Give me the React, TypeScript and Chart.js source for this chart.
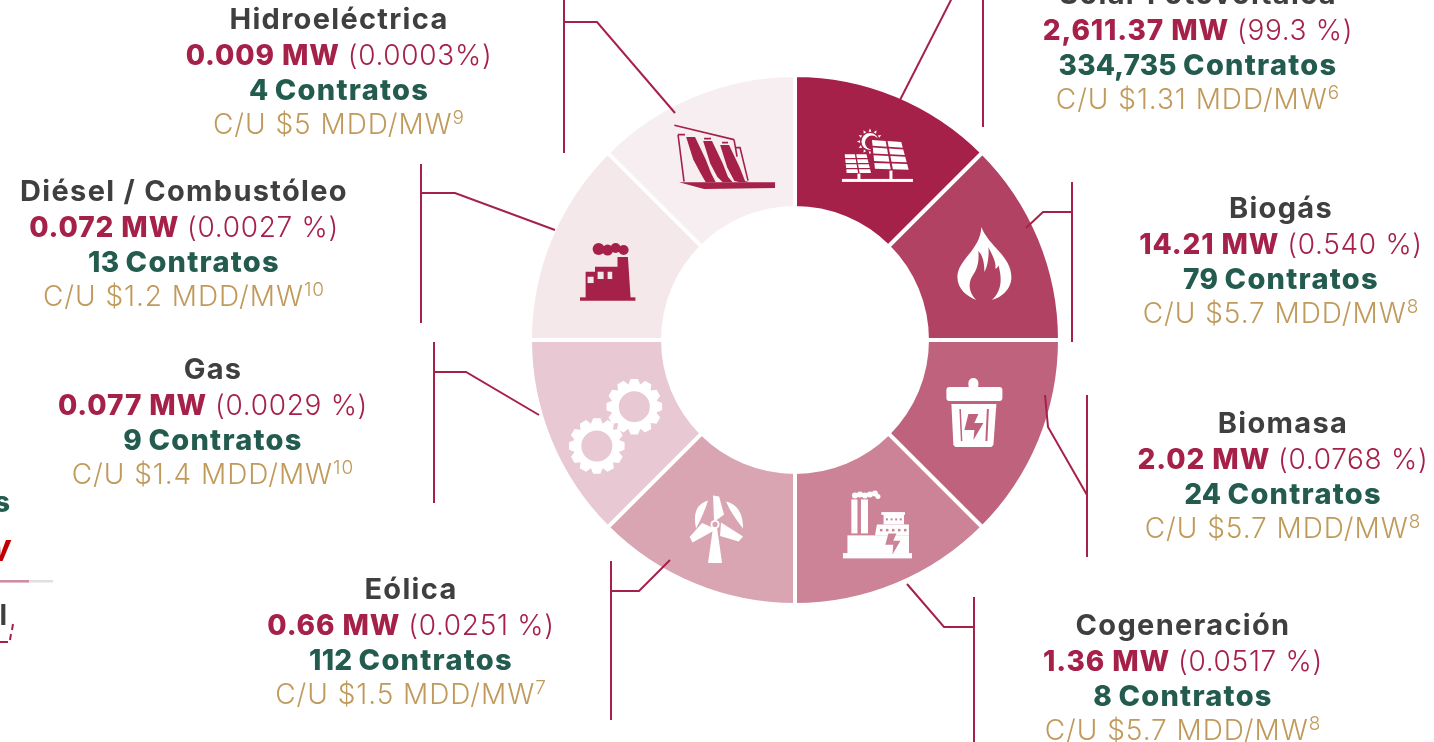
import React, { useEffect, useRef } from "react";
import { Chart, registerables } from "chart.js";

Chart.register(...registerables);

const categories = ["Solar Fotovoltaica", "Biogás", "Biomasa", "Cogeneración", "Eólica", "Gas", "Diésel / Combustóleo", "Hidroeléctrica"];
const capacityLabels = ["2,611.37 MW", "14.21 MW", "2.02 MW", "1.36 MW", "0.66 MW", "0.077 MW", "0.072 MW", "0.009 MW"];
const shareLabels = ["(99.3 %)", "(0.540 %)", "(0.0768 %)", "(0.0517 %)", "(0.0251 %)", "(0.0029 %)", "(0.0027 %)", "(0.0003%)"];
const contractCounts = ["334,735", "79", "24", "8", "112", "9", "13", "4"];
const contractWord = "Contratos";
const costLabels = ["C/U $1.31 MDD/MW", "C/U $5.7 MDD/MW", "C/U $5.7 MDD/MW", "C/U $5.7 MDD/MW", "C/U $1.5 MDD/MW", "C/U $1.4 MDD/MW", "C/U $1.2 MDD/MW", "C/U $5 MDD/MW"];
const footnotes = ["6", "8", "8", "8", "7", "10", "10", "9"];
const sliceWeights = [1, 1, 1, 1, 1, 1, 1, 1];
const sliceColors = ["#A6214A", "#B14263", "#BE627D", "#CC8398", "#D9A5B3", "#E8C8D2", "#F4E8EB", "#F7EEF1"];

const labelCenterX = [1198, 1281, 1283, 1183, 411, 213, 184, 339];
const labelFirstLineY = [-6, 208, 423, 625, 589, 369, 191, 19];
const lineOffsets = [0, 35.5, 70.5, 104.5];

const leaderLines: number[][][] = [
  [[900, 100], [953, -4]],
  [[1026, 228], [1043, 212], [1072, 212]],
  [[1045, 395], [1048, 427], [1087, 495]],
  [[907, 584], [944, 627], [974, 627]],
  [[670, 560], [639, 591], [611, 591]],
  [[539, 415], [466, 372], [434, 372]],
  [[555, 230], [455, 193], [421, 193]],
  [[675, 113], [597, 22], [564, 22]],
];
const leaderBars: number[][] = [
  [983, 0, 127], [1072, 182, 342], [1087, 395, 557], [974, 597, 742],
  [611, 561, 720], [434, 342, 503], [421, 164, 323], [564, 0, 153],
];

const RED = "#A6214A";
const FONT = "Inter, 'Noto Sans', sans-serif";
type C = CanvasRenderingContext2D;
type P = number[];

function poly(c: C, pts: P[], color: string) {
  c.fillStyle = color;
  c.beginPath();
  pts.forEach((p, i) => (i ? c.lineTo(p[0], p[1]) : c.moveTo(p[0], p[1])));
  c.closePath();
  c.fill();
}
function rect(c: C, x0: number, x1: number, y0: number, y1: number, color: string) {
  c.fillStyle = color;
  c.fillRect(x0, y0, x1 - x0, y1 - y0);
}
function circle(c: C, x: number, y: number, r: number, color: string) {
  c.fillStyle = color;
  c.beginPath();
  c.arc(x, y, r, 0, Math.PI * 2);
  c.fill();
}
function panel(c: C, q: P[], cols: number, rows: number) {
  const at = (u: number, v: number) => [
    (1 - v) * ((1 - u) * q[0][0] + u * q[1][0]) + v * ((1 - u) * q[3][0] + u * q[2][0]),
    (1 - v) * ((1 - u) * q[0][1] + u * q[1][1]) + v * ((1 - u) * q[3][1] + u * q[2][1]),
  ];
  for (let i = 0; i < cols; i++)
    for (let j = 0; j < rows; j++) {
      const g = 0.06;
      const u0 = i / cols + g / cols, u1 = (i + 1) / cols - g / cols;
      const v0 = j / rows + 0.12 / rows, v1 = (j + 1) / rows - 0.12 / rows;
      poly(c, [at(u0, v0), at(u1, v0), at(u1, v1), at(u0, v1)], "#fff");
    }
}
function bolt(c: C, dx: number, dy: number, s: number, color: string) {
  const pts = [[-5, -16], [5, -16], [1, -7], [10, -7], [0, 10], [1, -2], [-9, -2]];
  poly(c, pts.map((p) => [dx + p[0] * s, dy + p[1] * s]), color);
}

function iconSolar(c: C) {
  for (let i = 0; i < 12; i++) {
    const a = (i * Math.PI) / 6;
    poly(c, [
      [-1 + 13 * Math.cos(a), -15 + 13 * Math.sin(a)],
      [-1 + 10 * Math.cos(a + 0.14), -15 + 10 * Math.sin(a + 0.14)],
      [-1 + 10 * Math.cos(a - 0.14), -15 + 10 * Math.sin(a - 0.14)],
    ], "#fff");
  }
  circle(c, -1, -15, 8.5, "#fff");
  circle(c, 1, -14, 7, RED);
  poly(c, [[-1, -19], [32, -17], [41, 16], [1, 15]], RED);
  panel(c, [[-27, -3], [-4, -3], [1, 17], [-25, 17]], 2, 4);
  panel(c, [[0, -17.7], [31, -15.3], [39, 14], [3, 13]], 2, 4);
  rect(c, -29, 42, 22.3, 25.3, "#fff");
  rect(c, -13.5, -10.5, 17, 23, "#fff");
  rect(c, 18.5, 21.5, 14, 23, "#fff");
}
function iconFlame(c: C, bg: string) {
  c.fillStyle = "#fff";
  c.beginPath();
  c.moveTo(3, -37);
  c.bezierCurveTo(10, -18, 33, -8, 33, 13);
  c.bezierCurveTo(33, 26, 22, 34, 13, 36);
  c.lineTo(-1.5, 36);
  c.bezierCurveTo(-11, 33, -21, 25, -21, 13);
  c.bezierCurveTo(-21, -4, 2, -14, 3, -37);
  c.closePath();
  c.fill();
  c.fillStyle = bg;
  c.beginPath();
  c.moveTo(-1.5, 36.5);
  c.bezierCurveTo(-9, 30, -11, 20, -6, 12);
  c.bezierCurveTo(-2, 6, 1, 0, 0, -13);
  c.bezierCurveTo(4, -9, 6, -2, 6, 8);
  c.bezierCurveTo(9, 3, 11, -8, 10, -17);
  c.bezierCurveTo(14, -8, 18, -3, 17, 5);
  c.bezierCurveTo(19, 4, 20, 2, 20, 1);
  c.bezierCurveTo(23, 12, 25, 26, 13, 36.5);
  c.closePath();
  c.fill();
}
function iconTrash(c: C, bg: string) {
  c.fillStyle = "#fff";
  c.beginPath();
  c.roundRect(-32, -29, 56, 14, 3);
  c.fill();
  c.beginPath();
  c.roundRect(-10, -38, 10, 12, 5);
  c.fill();
  poly(c, [[-27, -12], [18, -12], [15, 29], [13, 31], [-23, 31], [-25, 29]], "#fff");
  poly(c, [[-19, -7], [-17.5, -7], [-16, 25], [-17.5, 25]], bg);
  poly(c, [[8.5, -7], [10.5, -7], [9, 25], [7, 25]], bg);
  poly(c, [[-10, -2], [0, -2], [-4, 7], [5, 7], [-5, 24], [-4, 14], [-14, 14]], bg);
}
function iconCogen(c: C, bg: string) {
  [[-16, -28, 3], [-11, -29, 3], [-6, -28, 3], [-1, -29, 3], [4, -30, 3], [7, -27, 2.5]].forEach((s) => circle(c, s[0], s[1], s[2], "#fff"));
  rect(c, -19.6, -13.5, -24, 10, "#fff");
  rect(c, -10, -3, -24, 10, "#fff");
  rect(c, -23.5, 38, 12, 30, "#fff");
  poly(c, [[4, 12], [6, 1], [38, 1], [38, 12]], "#fff");
  rect(c, 12.6, 33, -9, 1, "#fff");
  rect(c, 10.4, 34, -11.3, -8.5, "#fff");
  rect(c, -28, 41, 29.7, 35, "#fff");
  for (let i = 0; i < 4; i++) rect(c, 15 + i * 4.6, 17 + i * 4.6, -5, -3, bg);
  for (let i = 0; i < 5; i++) rect(c, 9 + i * 6, 11.5 + i * 6, 5.5, 8, bg);
  bolt(c, 21.5, 23, 0.8, bg);
}
function crescent(c: C, x0: number, y0: number, cx: number, cy: number, x1: number, y1: number, cx2: number, cy2: number) {
  c.fillStyle = "#fff";
  c.beginPath();
  c.moveTo(x0, y0);
  c.quadraticCurveTo(cx, cy, x1, y1);
  c.quadraticCurveTo(cx2, cy2, x0, y0);
  c.fill();
}
function iconWind(c: C, bg: string) {
  poly(c, [[-6, -28], [0, -27], [5, -9], [-3, -3], [-5, -3]], "#fff");
  poly(c, [[-29.4, 13.7], [-17, -0.3], [-9, 3], [-3, 6], [-26.5, 19]], "#fff");
  poly(c, [[2, -1], [24, 13], [19.6, 18], [1, 12.7]], "#fff");
  poly(c, [[-6, 4], [-2, 4], [3, 39.7], [-11, 39.7]], "#fff");
  circle(c, -4, 1, 4.5, "#fff");
  circle(c, -4, 1, 2.6, bg);
  crescent(c, -11, -23, -28, -18, -23, 5, -15, -10);
  crescent(c, 7, -22, 24, -18, 24, 5, 12, -10);
}
function gear(c: C, x: number, y: number, bg: string) {
  const n = 12;
  c.fillStyle = "#fff";
  c.beginPath();
  for (let i = 0; i < n; i++) {
    const a = (i / n) * Math.PI * 2;
    const w = 0.13;
    [[23, -0.26], [28, -w], [28, w], [23, 0.26]].forEach((p, j) => {
      const px = x + p[0] * Math.cos(a + p[1]);
      const py = y + p[0] * Math.sin(a + p[1]);
      if (i === 0 && j === 0) c.moveTo(px, py);
      else c.lineTo(px, py);
    });
  }
  c.closePath();
  c.fill();
  circle(c, x, y, 15.5, bg);
}
function iconGears(c: C, bg: string) {
  gear(c, 22.7, -9.3, bg);
  gear(c, -14.8, 30, bg);
}
function iconFactory(c: C) {
  [[-13, -15, 6], [-4, -14, 5.5], [4, -16, 5], [12, -14, 5]].forEach((s) => circle(c, s[0], s[1], s[2], RED));
  rect(c, -10, 14, -18, -12, RED);
  rect(c, -31.6, 23.8, 33.3, 36.7, RED);
  poly(c, [[-26, 7.7], [-16.6, 7.7], [-16.6, 2.7], [5.9, 2.7], [5.9, -7], [16.3, -7], [19, 34], [-26, 34]], RED);
  rect(c, -24, -18, 12.7, 19, "#F4E8EB");
  rect(c, -14, -8, 7.7, 15, "#F4E8EB");
  rect(c, -4, 0.6, 7.7, 15, "#F4E8EB");
}
function iconDam(c: C) {
  c.strokeStyle = RED;
  c.lineWidth = 1.6;
  c.beginPath();
  c.moveTo(-44.7, -31.3);
  c.lineTo(15, -17);
  c.moveTo(-41, -22);
  c.lineTo(-34, -22);
  c.moveTo(-41, -22);
  c.lineTo(-35, 25);
  c.moveTo(15, -17);
  c.lineTo(18, 0);
  c.moveTo(17, -9);
  c.lineTo(21, -9);
  c.lineTo(29, 24);
  c.moveTo(-15, -18);
  c.lineTo(-8, -18);
  c.moveTo(3, -14);
  c.lineTo(9, -14);
  c.stroke();
  poly(c, [[-40, 25.7], [-15, 32.3], [56, 31.3], [56, 25.7]], RED);
  const spill = [[-32.9, -19.7], [-24, -19.7], [-13.3, 3], [-8, 16.3], [-3.3, 25.7], [-13.3, 25.7], [-18.6, 16.3], [-25.8, 3]];
  [[0, 0], [17, 4], [34, 8]].forEach((d) => {
    poly(c, spill.map((p) => [p[0] + d[0], Math.min(p[1] + d[1], 25.7)]), RED);
  });
}

const decorPlugin = {
  id: "decor",
  afterDatasetsDraw(chart: any) {
    const c: C = chart.ctx;
    const arcs = chart.getDatasetMeta(0).data;
    const draws = [
      () => iconSolar(c),
      () => iconFlame(c, sliceColors[1]),
      () => iconTrash(c, sliceColors[2]),
      () => iconCogen(c, sliceColors[3]),
      () => iconWind(c, sliceColors[4]),
      () => iconGears(c, sliceColors[5]),
      () => iconFactory(c),
      () => iconDam(c),
    ];
    arcs.forEach((arc: any, i: number) => {
      const mid = (arc.startAngle + arc.endAngle) / 2;
      const r = 198.5;
      c.save();
      c.translate(arc.x + r * Math.cos(mid), arc.y + r * Math.sin(mid));
      draws[i]();
      c.restore();
    });
    c.save();
    c.strokeStyle = RED;
    c.lineWidth = 2;
    leaderLines.forEach((pts) => {
      c.beginPath();
      pts.forEach((p, i) => (i ? c.lineTo(p[0], p[1]) : c.moveTo(p[0], p[1])));
      c.stroke();
    });
    leaderBars.forEach((b) => {
      c.beginPath();
      c.moveTo(b[0], b[1]);
      c.lineTo(b[0], b[2]);
      c.stroke();
    });
    rect(c, 0, 53, 580, 582.5, "#DFDFDF");
    rect(c, 0, 29, 580, 582.5, "#D08CA0");
    c.beginPath();
    c.moveTo(0, 642);
    c.lineTo(8, 642);
    c.moveTo(10, 640);
    c.lineTo(11, 634);
    c.moveTo(12, 630);
    c.lineTo(13, 624);
    c.stroke();
    c.restore();
  },
};

const base: React.CSSProperties = { position: "absolute", whiteSpace: "nowrap", lineHeight: "36px", fontFamily: FONT, fontSize: 28 };

function Block({ i }: { i: number }) {
  const line = (k: number, content: React.ReactNode) => (
    <div style={{ ...base, left: labelCenterX[i] - 300, width: 600, textAlign: "center", top: labelFirstLineY[i] + lineOffsets[k] - 18 }}>{content}</div>
  );
  return (
    <>
      {line(0, <span style={{ fontWeight: 700, fontSize: 29, color: "#3F3F3F", letterSpacing: 1.3 }}>{categories[i]}</span>)}
      {line(1, (
        <>
          <span style={{ fontWeight: 800, color: RED, letterSpacing: 0.9 }}>{capacityLabels[i]}</span>{" "}
          <span style={{ fontWeight: 300, color: RED, letterSpacing: 0.7 }}>{shareLabels[i]}</span>
        </>
      ))}
      {line(2, (
        <span style={{ fontWeight: 800, color: "#235C4E" }}>
          <span style={{ letterSpacing: 0.2 }}>{contractCounts[i]} </span>
          <span style={{ fontSize: 29, letterSpacing: 1.25 }}>{contractWord}</span>
        </span>
      ))}
      {line(3, (
        <span style={{ fontWeight: 300, color: "#C09A5B", letterSpacing: 0.95 }}>
          {costLabels[i]}
          <span style={{ fontSize: 19, position: "relative", top: -10 }}>{footnotes[i]}</span>
        </span>
      ))}
    </>
  );
}

export default function App() {
  const ref = useRef<HTMLCanvasElement>(null);
  useEffect(() => {
    const chart = new Chart(ref.current as HTMLCanvasElement, {
      type: "doughnut",
      data: {
        labels: categories,
        datasets: [{ data: sliceWeights, backgroundColor: sliceColors, borderColor: "#fff", borderWidth: 4 }],
      },
      options: {
        animation: false,
        responsive: false,
        devicePixelRatio: 1,
        radius: 265,
        cutout: "49.8%",
        layout: { padding: { left: 156, bottom: 62 } },
        plugins: { legend: { display: false }, tooltip: { enabled: false } },
      },
      plugins: [decorPlugin],
    } as any);
    return () => chart.destroy();
  }, []);
  return (
    <div style={{ position: "absolute", left: 0, top: 0, width: 1434, height: 742, overflow: "hidden", background: "#fff" }}>
      <canvas ref={ref} width={1434} height={742} style={{ position: "absolute", left: 0, top: 0 }} />
      {categories.map((_, i) => <Block key={i} i={i} />)}
      <div style={{ ...base, right: 1424, top: 484, fontWeight: 800, color: "#235C4E" }}>s</div>
      <div style={{ ...base, right: 1424, top: 533, fontWeight: 800, fontStyle: "italic", color: "#C00000" }}>W</div>
      <div style={{ ...base, right: 1427, top: 597, fontWeight: 700, color: "#3F3F3F" }}>l</div>
    </div>
  );
}
